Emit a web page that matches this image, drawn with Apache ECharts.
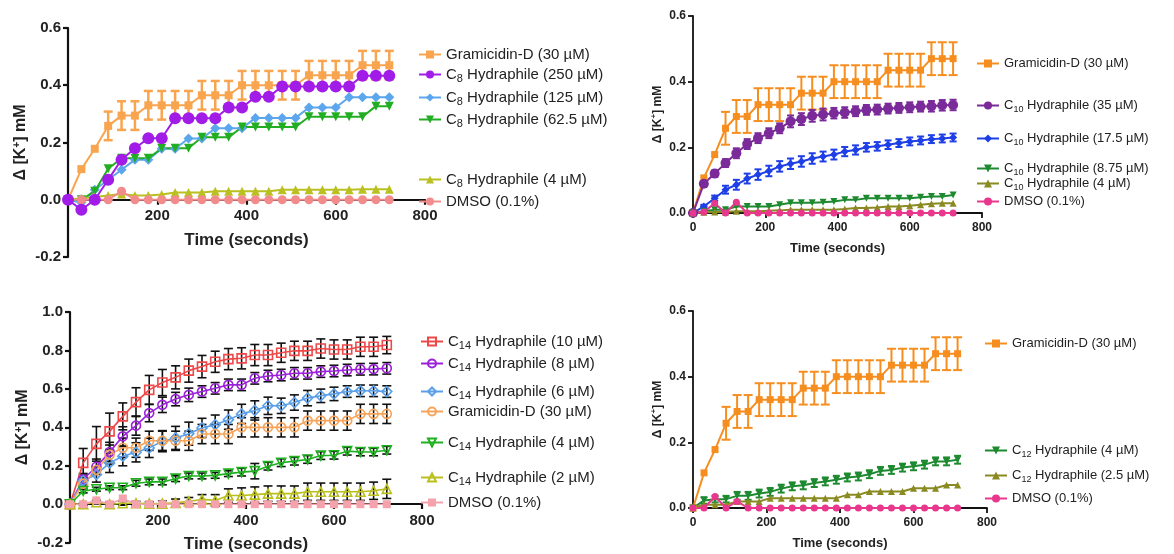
<!DOCTYPE html>
<html>
<head>
<meta charset="utf-8">
<script src="https://cdn.jsdelivr.net/npm/echarts@6/dist/echarts.min.js"></script>
<style>
  html, body { margin: 0; padding: 0; background: #fff; }
  #chart { width: 1174px; height: 554px; }
</style>
</head>
<body>
<div id="chart"></div>
<script>
// time points (s)
const timeSec = [0, 30, 60, 90, 120, 150, 180, 210, 240, 270, 300, 330, 360, 390, 420, 450, 480, 510, 540, 570, 600, 630, 660, 690, 720];
const xTicks = [0, 200, 400, 600, 800];

// Gramicidin-D (30 µM) - same control in every panel
const gramicidin = [0, 0.107, 0.178, 0.258, 0.294, 0.294, 0.33, 0.33, 0.33, 0.33, 0.365, 0.365, 0.365, 0.40, 0.40, 0.40, 0.40, 0.40, 0.435, 0.435, 0.435, 0.435, 0.47, 0.47, 0.47];
const gramicidinErr = [0, 0, 0, 0.05, 0.05, 0.05, 0.05, 0.05, 0.05, 0.05, 0.05, 0.05, 0.05, 0.05, 0.05, 0.05, 0.05, 0.05, 0.05, 0.05, 0.05, 0.05, 0.05, 0.05, 0.05];

// panel A : C8
const c8_250 = [0, -0.035, 0, 0.07, 0.14, 0.18, 0.215, 0.215, 0.285, 0.285, 0.285, 0.285, 0.322, 0.322, 0.36, 0.36, 0.396, 0.396, 0.396, 0.396, 0.396, 0.396, 0.433, 0.433, 0.433];
const c8_125 = [0, -0.01, 0.035, 0.07, 0.105, 0.14, 0.14, 0.178, 0.178, 0.214, 0.214, 0.25, 0.25, 0.25, 0.286, 0.286, 0.286, 0.286, 0.322, 0.322, 0.322, 0.358, 0.358, 0.358, 0.358];
const c8_62 = [0, 0, 0.03, 0.108, 0.145, 0.145, 0.145, 0.18, 0.18, 0.18, 0.218, 0.218, 0.218, 0.254, 0.254, 0.254, 0.254, 0.254, 0.29, 0.29, 0.29, 0.29, 0.29, 0.327, 0.327];
const c8_4 = [0, 0.005, 0.01, 0.015, 0.02, 0.015, 0.015, 0.018, 0.025, 0.025, 0.025, 0.03, 0.03, 0.03, 0.03, 0.03, 0.035, 0.035, 0.035, 0.035, 0.035, 0.035, 0.037, 0.037, 0.037];
const dmsoA = [0, 0, 0, 0, 0.03, 0, 0, 0, 0, 0, 0, 0, 0, 0, 0, 0, 0, 0, 0, 0, 0, 0, 0, 0, 0];

// panel B : C10
const c10_35 = [0, 0.089, 0.12, 0.152, 0.182, 0.21, 0.228, 0.243, 0.258, 0.279, 0.286, 0.296, 0.30, 0.304, 0.306, 0.31, 0.314, 0.315, 0.318, 0.32, 0.322, 0.324, 0.325, 0.328, 0.329];
const c10_35Err = [0, 0.008, 0.01, 0.012, 0.015, 0.015, 0.015, 0.015, 0.015, 0.018, 0.018, 0.018, 0.018, 0.016, 0.016, 0.015, 0.015, 0.015, 0.015, 0.015, 0.015, 0.015, 0.016, 0.016, 0.016];
const c10_17 = [0, 0.02, 0.045, 0.071, 0.086, 0.105, 0.117, 0.128, 0.142, 0.15, 0.157, 0.166, 0.172, 0.178, 0.187, 0.192, 0.2, 0.203, 0.208, 0.213, 0.218, 0.221, 0.225, 0.227, 0.23];
const c10_17Err = [0, 0.005, 0.008, 0.012, 0.015, 0.015, 0.016, 0.016, 0.016, 0.016, 0.016, 0.016, 0.015, 0.015, 0.014, 0.014, 0.013, 0.013, 0.013, 0.012, 0.012, 0.012, 0.012, 0.012, 0.012];
const c10_875 = [0, 0.005, 0.01, 0.01, 0.02, 0.02, 0.02, 0.02, 0.025, 0.031, 0.031, 0.031, 0.033, 0.035, 0.04, 0.04, 0.045, 0.045, 0.045, 0.045, 0.045, 0.048, 0.05, 0.05, 0.055];
const c10_4 = [0, 0.002, 0.003, 0.003, 0.005, 0.005, 0.005, 0.007, 0.008, 0.01, 0.01, 0.01, 0.01, 0.01, 0.012, 0.015, 0.015, 0.017, 0.02, 0.02, 0.022, 0.025, 0.028, 0.03, 0.03];
const dmsoB = [0, 0.003, 0.03, 0, 0.033, 0, 0, 0, 0, 0, 0, 0, 0, 0, 0, 0, 0, 0, 0, 0, 0, 0, 0, 0, 0];

// panel C : C14
const c14_10 = [0, 0.215, 0.314, 0.379, 0.457, 0.531, 0.595, 0.633, 0.66, 0.695, 0.716, 0.741, 0.755, 0.759, 0.776, 0.776, 0.788, 0.798, 0.798, 0.81, 0.805, 0.805, 0.819, 0.819, 0.828];
const c14_10Err = [0, 0.075, 0.09, 0.095, 0.07, 0.075, 0.075, 0.068, 0.06, 0.06, 0.058, 0.055, 0.055, 0.055, 0.055, 0.055, 0.05, 0.05, 0.05, 0.05, 0.05, 0.05, 0.05, 0.05, 0.045];
const c14_8 = [0, 0.13, 0.195, 0.272, 0.353, 0.409, 0.474, 0.517, 0.547, 0.569, 0.586, 0.603, 0.621, 0.621, 0.655, 0.667, 0.672, 0.681, 0.681, 0.69, 0.693, 0.698, 0.702, 0.703, 0.707];
const c14_8Err = [0, 0.03, 0.04, 0.05, 0.05, 0.05, 0.045, 0.04, 0.035, 0.035, 0.03, 0.03, 0.03, 0.03, 0.03, 0.03, 0.03, 0.03, 0.03, 0.03, 0.03, 0.03, 0.03, 0.03, 0.03];
const c14_6 = [0, 0.122, 0.155, 0.215, 0.25, 0.27, 0.293, 0.328, 0.345, 0.367, 0.397, 0.414, 0.44, 0.47, 0.488, 0.512, 0.512, 0.529, 0.552, 0.564, 0.574, 0.586, 0.59, 0.59, 0.586];
const c14_6Err = [0, 0.03, 0.04, 0.05, 0.05, 0.05, 0.05, 0.055, 0.06, 0.06, 0.05, 0.05, 0.05, 0.05, 0.05, 0.045, 0.04, 0.04, 0.04, 0.035, 0.035, 0.03, 0.03, 0.03, 0.03];
const c14_4 = [0, 0.069, 0.078, 0.086, 0.086, 0.109, 0.116, 0.116, 0.133, 0.147, 0.147, 0.15, 0.159, 0.167, 0.172, 0.198, 0.216, 0.224, 0.233, 0.253, 0.255, 0.276, 0.272, 0.272, 0.281];
const c14_4Err = [0, 0.01, 0.01, 0.01, 0.01, 0.015, 0.015, 0.015, 0.015, 0.015, 0.015, 0.015, 0.015, 0.02, 0.04, 0.02, 0.02, 0.02, 0.02, 0.02, 0.02, 0.02, 0.02, 0.02, 0.02];
const c14_2 = [0, 0, 0.01, 0, 0.005, 0.005, 0.003, 0.003, 0.007, 0.015, 0.025, 0.02, 0.045, 0.045, 0.05, 0.055, 0.055, 0.055, 0.065, 0.065, 0.065, 0.065, 0.065, 0.07, 0.08];
const c14_2Err = [0, 0.005, 0.01, 0.01, 0.01, 0.01, 0.01, 0.015, 0.02, 0.02, 0.025, 0.03, 0.035, 0.04, 0.04, 0.04, 0.04, 0.04, 0.045, 0.045, 0.045, 0.045, 0.045, 0.045, 0.05];
const dmsoC = [0, 0, 0.02, 0, 0.03, 0, 0, 0, 0, 0, 0, 0, 0, 0, 0, 0, 0, 0, 0, 0, 0, 0, 0, 0, 0];

// panel D : C12
const c12_4 = [0, 0.023, 0.027, 0.027, 0.037, 0.037, 0.044, 0.049, 0.059, 0.066, 0.069, 0.076, 0.081, 0.086, 0.093, 0.096, 0.103, 0.113, 0.116, 0.123, 0.127, 0.132, 0.142, 0.142, 0.147];
const c12_4Err = [0, 0.01, 0.01, 0.01, 0.012, 0.012, 0.012, 0.012, 0.012, 0.012, 0.012, 0.012, 0.012, 0.012, 0.012, 0.012, 0.012, 0.012, 0.012, 0.012, 0.012, 0.012, 0.012, 0.012, 0.012];
const c12_25 = [0, 0.01, 0.01, 0.01, 0.02, 0.02, 0.02, 0.03, 0.03, 0.03, 0.03, 0.03, 0.03, 0.03, 0.04, 0.04, 0.05, 0.05, 0.05, 0.05, 0.06, 0.06, 0.06, 0.07, 0.07];
const dmsoD = [0, 0, 0.035, 0, 0.02, 0, 0, 0, 0, 0, 0, 0, 0, 0, 0, 0, 0, 0, 0, 0, 0, 0, 0, 0, 0];

const FONT = 'Liberation Sans';

// panel frames
const panels = [
  { grid: { left: 68, top: 28, width: 357, height: 229 }, yMin: -0.2, yMax: 0.6, big: true },
  { grid: { left: 693, top: 16, width: 289, height: 197 }, yMin: 0, yMax: 0.6, big: false },
  { grid: { left: 70, top: 312, width: 352, height: 232 }, yMin: -0.2, yMax: 1.0, big: true },
  { grid: { left: 693, top: 311, width: 294, height: 197 }, yMin: 0, yMax: 0.6, big: false }
];

const series = [];
const legends = [];

function pts(vals) {
  return timeSec.map((t, i) => [t, vals[i]]);
}

function line(p, name, vals, color, symbol, size, opt) {
  opt = opt || {};
  series.push({
    type: 'line',
    name: p + '|' + name,
    xAxisIndex: p,
    yAxisIndex: p,
    data: pts(vals),
    symbol: symbol,
    symbolSize: size,
    symbolRotate: opt.rotate || 0,
    showAllSymbol: true,
    lineStyle: { color: color, width: opt.lw || 2 },
    itemStyle: opt.hollow
      ? { color: 'rgba(255,255,255,0)', borderColor: color, borderWidth: 1.6 }
      : { color: color },
    z: opt.z || 3,
    emphasis: { disabled: true }
  });
}

function errBars(p, vals, errs, color, lw, cap) {
  const d = [];
  timeSec.forEach((t, i) => {
    if (errs[i] > 0) d.push([t, vals[i] - errs[i], vals[i] + errs[i]]);
  });
  series.push({
    type: 'custom',
    xAxisIndex: p,
    yAxisIndex: p,
    data: d,
    encode: { x: 0, y: [1, 2] },
    z: 2,
    silent: true,
    renderItem: function (params, api) {
      const x = api.value(0);
      const top = api.coord([x, api.value(2)]);
      const bot = api.coord([x, api.value(1)]);
      const w = cap / 2;
      const st = { stroke: color, lineWidth: lw };
      return {
        type: 'group',
        children: [
          { type: 'line', shape: { x1: top[0], y1: top[1], x2: bot[0], y2: bot[1] }, style: st },
          { type: 'line', shape: { x1: top[0] - w, y1: top[1], x2: top[0] + w, y2: top[1] }, style: st },
          { type: 'line', shape: { x1: bot[0] - w, y1: bot[1], x2: bot[0] + w, y2: bot[1] }, style: st }
        ]
      };
    }
  });
}

function fmtName(n) {
  n = n.split('|')[1];
  return n.replace(/^C(\d+) /, 'C{s|$1} ');
}

function legendItem(p, name, x, y, fs) {
  legends.push({
    left: x,
    top: y - 8,
    padding: 0,
    orient: 'vertical',
    selectedMode: false,
    itemWidth: 22,
    itemHeight: 10,
    itemGap: 5,
    data: [p + '|' + name],
    formatter: fmtName,
    textStyle: {
      fontFamily: FONT,
      fontSize: fs,
      color: '#222',
      rich: { s: { fontFamily: FONT, fontSize: fs - 4, color: '#222', padding: [8, 0, 0, 0] } }
    }
  });
}

// ---- panel A
line(0, 'Gramicidin-D (30 µM)', gramicidin, '#F9A54F', 'rect', 8);
errBars(0, gramicidin, gramicidinErr, '#F9A54F', 2.5, 9);
line(0, 'C8 Hydraphile (250 µM)', c8_250, '#A21CE8', 'circle', 12, { z: 4 });
line(0, 'C8 Hydraphile (125 µM)', c8_125, '#5BA6EC', 'diamond', 10);
line(0, 'C8 Hydraphile (62.5 µM)', c8_62, '#22AE22', 'triangle', 9, { rotate: 180 });
line(0, 'C8 Hydraphile (4 µM)', c8_4, '#B9C020', 'triangle', 9);
line(0, 'DMSO (0.1%)', dmsoA, '#F28C8C', 'circle', 9);

// ---- panel B
line(1, 'Gramicidin-D (30 µM)', gramicidin, '#F68E1F', 'rect', 7);
errBars(1, gramicidin, gramicidinErr, '#F68E1F', 2, 9);
line(1, 'C10 Hydraphile (35 µM)', c10_35, '#7A2A99', 'circle', 10);
errBars(1, c10_35, c10_35Err, '#7A2A99', 2, 7);
line(1, 'C10 Hydraphile (17.5 µM)', c10_17, '#1F3FE6', 'diamond', 8);
errBars(1, c10_17, c10_17Err, '#1F3FE6', 2, 7);
line(1, 'C10 Hydraphile (8.75 µM)', c10_875, '#1E8A30', 'triangle', 7, { rotate: 180 });
line(1, 'C10 Hydraphile (4 µM)', c10_4, '#8A8A22', 'triangle', 7);
line(1, 'DMSO (0.1%)', dmsoB, '#E8378C', 'circle', 7);

// ---- panel C
line(2, 'C14 Hydraphile (10 µM)', c14_10, '#EE4848', 'rect', 9, { hollow: true, lw: 1.6 });
errBars(2, c14_10, c14_10Err, '#111', 1.6, 9);
line(2, 'C14 Hydraphile (8 µM)', c14_8, '#9B22D9', 'circle', 9, { hollow: true, lw: 1.6 });
errBars(2, c14_8, c14_8Err, '#111', 1.6, 9);
line(2, 'C14 Hydraphile (6 µM)', c14_6, '#5A9FE8', 'diamond', 10, { hollow: true, lw: 1.6 });
errBars(2, c14_6, c14_6Err, '#111', 1.6, 9);
line(2, 'Gramicidin-D (30 µM)', gramicidin, '#F5A45A', 'circle', 9, { hollow: true, lw: 1.6 });
errBars(2, gramicidin, gramicidinErr, '#111', 1.6, 9);
line(2, 'C14 Hydraphile (4 µM)', c14_4, '#1FB01F', 'triangle', 9, { hollow: true, lw: 1.6, rotate: 180 });
errBars(2, c14_4, c14_4Err, '#111', 1.6, 9);
line(2, 'C14 Hydraphile (2 µM)', c14_2, '#BABF1C', 'triangle', 9, { hollow: true, lw: 1.6 });
errBars(2, c14_2, c14_2Err, '#111', 1.6, 9);
line(2, 'DMSO (0.1%)', dmsoC, '#F4A3AC', 'rect', 8, { lw: 1.6 });

// ---- panel D
line(3, 'Gramicidin-D (30 µM)', gramicidin, '#F68E1F', 'rect', 7);
errBars(3, gramicidin, gramicidinErr, '#F68E1F', 2, 9);
line(3, 'C12 Hydraphile (4 µM)', c12_4, '#1E8A30', 'triangle', 7, { rotate: 180 });
errBars(3, c12_4, c12_4Err, '#1E8A30', 2, 7);
line(3, 'C12 Hydraphile (2.5 µM)', c12_25, '#8A8A22', 'triangle', 7);
line(3, 'DMSO (0.1%)', dmsoD, '#E8378C', 'circle', 7);

// legends (layout)
const legendRows = [
  { p: 0, x: 418, fs: 15, rows: [['Gramicidin-D (30 µM)', 55], ['C8 Hydraphile (250 µM)', 75], ['C8 Hydraphile (125 µM)', 98], ['C8 Hydraphile (62.5 µM)', 120], ['C8 Hydraphile (4 µM)', 180], ['DMSO (0.1%)', 202]] },
  { p: 1, x: 976, fs: 13, rows: [['Gramicidin-D (30 µM)', 65], ['C10 Hydraphile (35 µM)', 107], ['C10 Hydraphile (17.5 µM)', 140], ['C10 Hydraphile (8.75 µM)', 170], ['C10 Hydraphile (4 µM)', 185], ['DMSO (0.1%)', 203]] },
  { p: 2, x: 420, fs: 15, rows: [['C14 Hydraphile (10 µM)', 342], ['C14 Hydraphile (8 µM)', 364], ['C14 Hydraphile (6 µM)', 392], ['Gramicidin-D (30 µM)', 412], ['C14 Hydraphile (4 µM)', 443], ['C14 Hydraphile (2 µM)', 478], ['DMSO (0.1%)', 503]] },
  { p: 3, x: 984, fs: 13, rows: [['Gramicidin-D (30 µM)', 345], ['C12 Hydraphile (4 µM)', 452], ['C12 Hydraphile (2.5 µM)', 477], ['DMSO (0.1%)', 500]] }
];
legendRows.forEach(g => g.rows.forEach(r => legendItem(g.p, r[0], g.x, r[1], g.fs)));

// x axis sits on y = 0; shift it up from the grid bottom by the matching amount
const xAxes = panels.map((pn, i) => ({
  type: 'value',
  gridIndex: i,
  min: 0,
  max: 800,
  interval: 200,
  offset: -pn.grid.height * (0 - pn.yMin) / (pn.yMax - pn.yMin),
  name: 'Time (seconds)',
  nameLocation: 'middle',
  nameGap: pn.big ? 32 : 29,
  nameTextStyle: { fontFamily: FONT, fontWeight: 'bold', fontSize: pn.big ? 17 : 13, color: '#222' },
  axisLine: { onZero: false, lineStyle: { color: '#111', width: pn.big ? 2.2 : 1.8 } },
  axisTick: { length: 5, lineStyle: { color: '#111', width: pn.big ? 2.2 : 1.8 } },
  axisLabel: {
    showMinLabel: !pn.big,
    margin: 9,
    fontFamily: FONT, fontWeight: 'bold', fontSize: pn.big ? 15 : 12, color: '#222'
  },
  splitLine: { show: false }
}));

const yAxes = panels.map((pn, i) => ({
  type: 'value',
  gridIndex: i,
  min: pn.yMin,
  max: pn.yMax,
  interval: 0.2,
  name: '{t|Δ [K}{u|+}{t|] mM}',
  nameLocation: 'middle',
  nameRotate: 90,
  nameGap: pn.big ? 38 : 27,
  nameTextStyle: {
    rich: {
      t: { fontFamily: FONT, fontWeight: 'bold', fontSize: pn.big ? 16 : 12, color: '#222' },
      u: { fontFamily: FONT, fontWeight: 'bold', fontSize: pn.big ? 10 : 8, color: '#222', padding: [0, 0, 8, 0] }
    }
  },
  axisLine: { onZero: false, lineStyle: { color: '#111', width: pn.big ? 2.2 : 1.8 } },
  axisTick: { length: 5, lineStyle: { color: '#111', width: pn.big ? 2.2 : 1.8 } },
  axisLabel: {
    margin: 7,
    formatter: v => v.toFixed(1),
    fontFamily: FONT, fontWeight: 'bold', fontSize: pn.big ? 15 : 12, color: '#222'
  },
  splitLine: { show: false }
}));

const chart = echarts.init(document.getElementById('chart'));
chart.setOption({
  backgroundColor: '#fff',
  animation: false,
  grid: panels.map(pn => pn.grid),
  xAxis: xAxes,
  yAxis: yAxes,
  legend: legends,
  series: series
});
</script>
</body>
</html>
